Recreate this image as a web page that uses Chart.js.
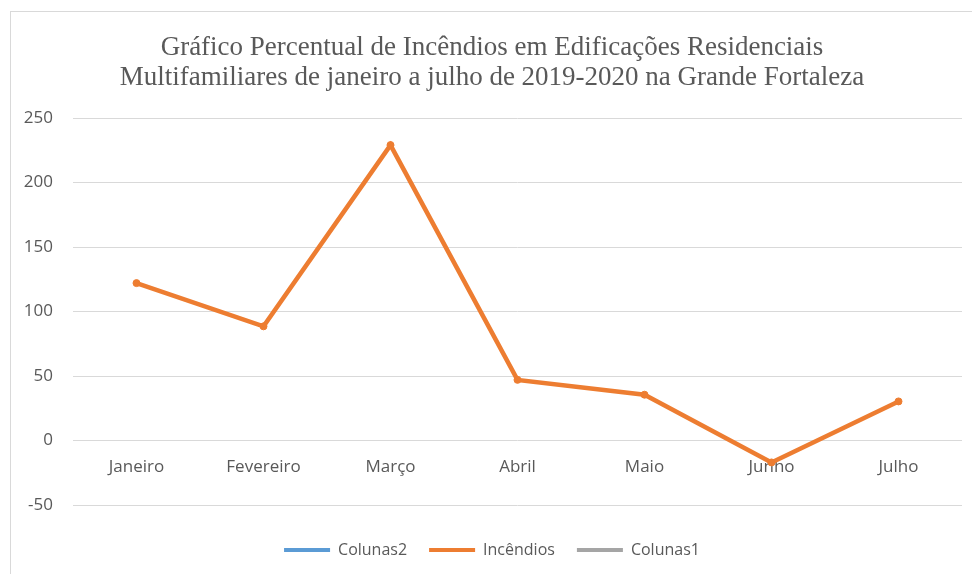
<!DOCTYPE html>
<html>
<head>
<meta charset="utf-8">
<script src="https://cdn.jsdelivr.net/npm/chart.js@4/dist/chart.umd.min.js"></script>
<style>
  body { margin: 0; background: #fff; overflow: hidden; }
  #frame { position: absolute; left: 10px; top: 11px; width: 2000px; height: 2000px;
           border-left: 1px solid #d9d9d9; border-top: 1px solid #d9d9d9; }
  #chart { position: absolute; left: 0; top: 0; }
</style>
</head>
<body>
<div id="frame"></div>
<canvas id="chart" width="972" height="574"></canvas>
<script>
// data
var meses = ['Janeiro', 'Fevereiro', 'Março', 'Abril', 'Maio', 'Junho', 'Julho'];
var incendios = [122, 88.5, 229, 47, 35.5, -17, 30.3];
var colunas2 = [];
var colunas1 = [];
var yMin = -50, yMax = 250, yStep = 50;

var cinza = '#595959';
var fonte = "'Open Sans', 'DejaVu Sans', sans-serif";

var ctx = document.getElementById('chart').getContext('2d');

var chart = new Chart(ctx, {
  type: 'line',
  data: {
    labels: meses,
    datasets: [{
      label: 'Colunas2',
      data: colunas2,
      borderColor: '#5B9BD5',
      backgroundColor: '#5B9BD5'
    }, {
      label: 'Incêndios',
      data: incendios,
      borderColor: '#ED7D31',
      backgroundColor: '#ED7D31',
      borderWidth: 4.5,
      pointRadius: 3.5,
      pointBorderWidth: 1,
      tension: 0
    }, {
      label: 'Colunas1',
      data: colunas1,
      borderColor: '#A5A5A5',
      backgroundColor: '#A5A5A5'
    }]
  },
  options: {
    responsive: false,
    animation: false,
    layout: {
      padding: { left: 22, right: 10, top: 0, bottom: 6 }
    },
    plugins: {
      title: {
        display: true,
        text: ['Gráfico Percentual de Incêndios em Edificações Residenciais',
               'Multifamiliares de janeiro a julho de 2019-2020 na Grande Fortaleza'],
        color: cinza,
        font: { family: "'Liberation Serif', serif", size: 27, weight: 'normal', lineHeight: 30 / 27 },
        padding: { top: 33, bottom: 25 }
      },
      legend: {
        position: 'bottom',
        labels: {
          color: cinza,
          font: { family: fonte, size: 16 },
          usePointStyle: true,
          pointStyleWidth: 46,
          padding: 22,
          generateLabels: function (c) {
            var items = Chart.defaults.plugins.legend.labels.generateLabels(c);
            items.forEach(function (it) {
              it.pointStyle = 'line';
              it.lineWidth = 4;
            });
            return items;
          }
        }
      },
      tooltip: { enabled: false }
    },
    scales: {
      x: {
        offset: true,
        position: { y: 0 },
        grid: { display: false, drawTicks: false },
        border: { display: false },
        ticks: { color: cinza, font: { family: fonte, size: 17 }, padding: 16, maxRotation: 0 },
        afterFit: function (s) { s.height = 0; }
      },
      // empty axis that only keeps room between the plot and the legend
      gap: {
        type: 'category',
        position: 'bottom',
        grid: { display: false, drawTicks: false },
        border: { display: false },
        ticks: { display: false },
        afterFit: function (s) { s.height = 15; }
      },
      y: {
        min: yMin,
        max: yMax,
        grid: { color: '#d9d9d9', lineWidth: 1, drawTicks: false },
        border: { display: false },
        ticks: { stepSize: yStep, color: cinza, font: { family: fonte, size: 17 }, padding: 20 },
        afterFit: function (s) { s.width = 51; }
      }
    }
  }
});
</script>
</body>
</html>
